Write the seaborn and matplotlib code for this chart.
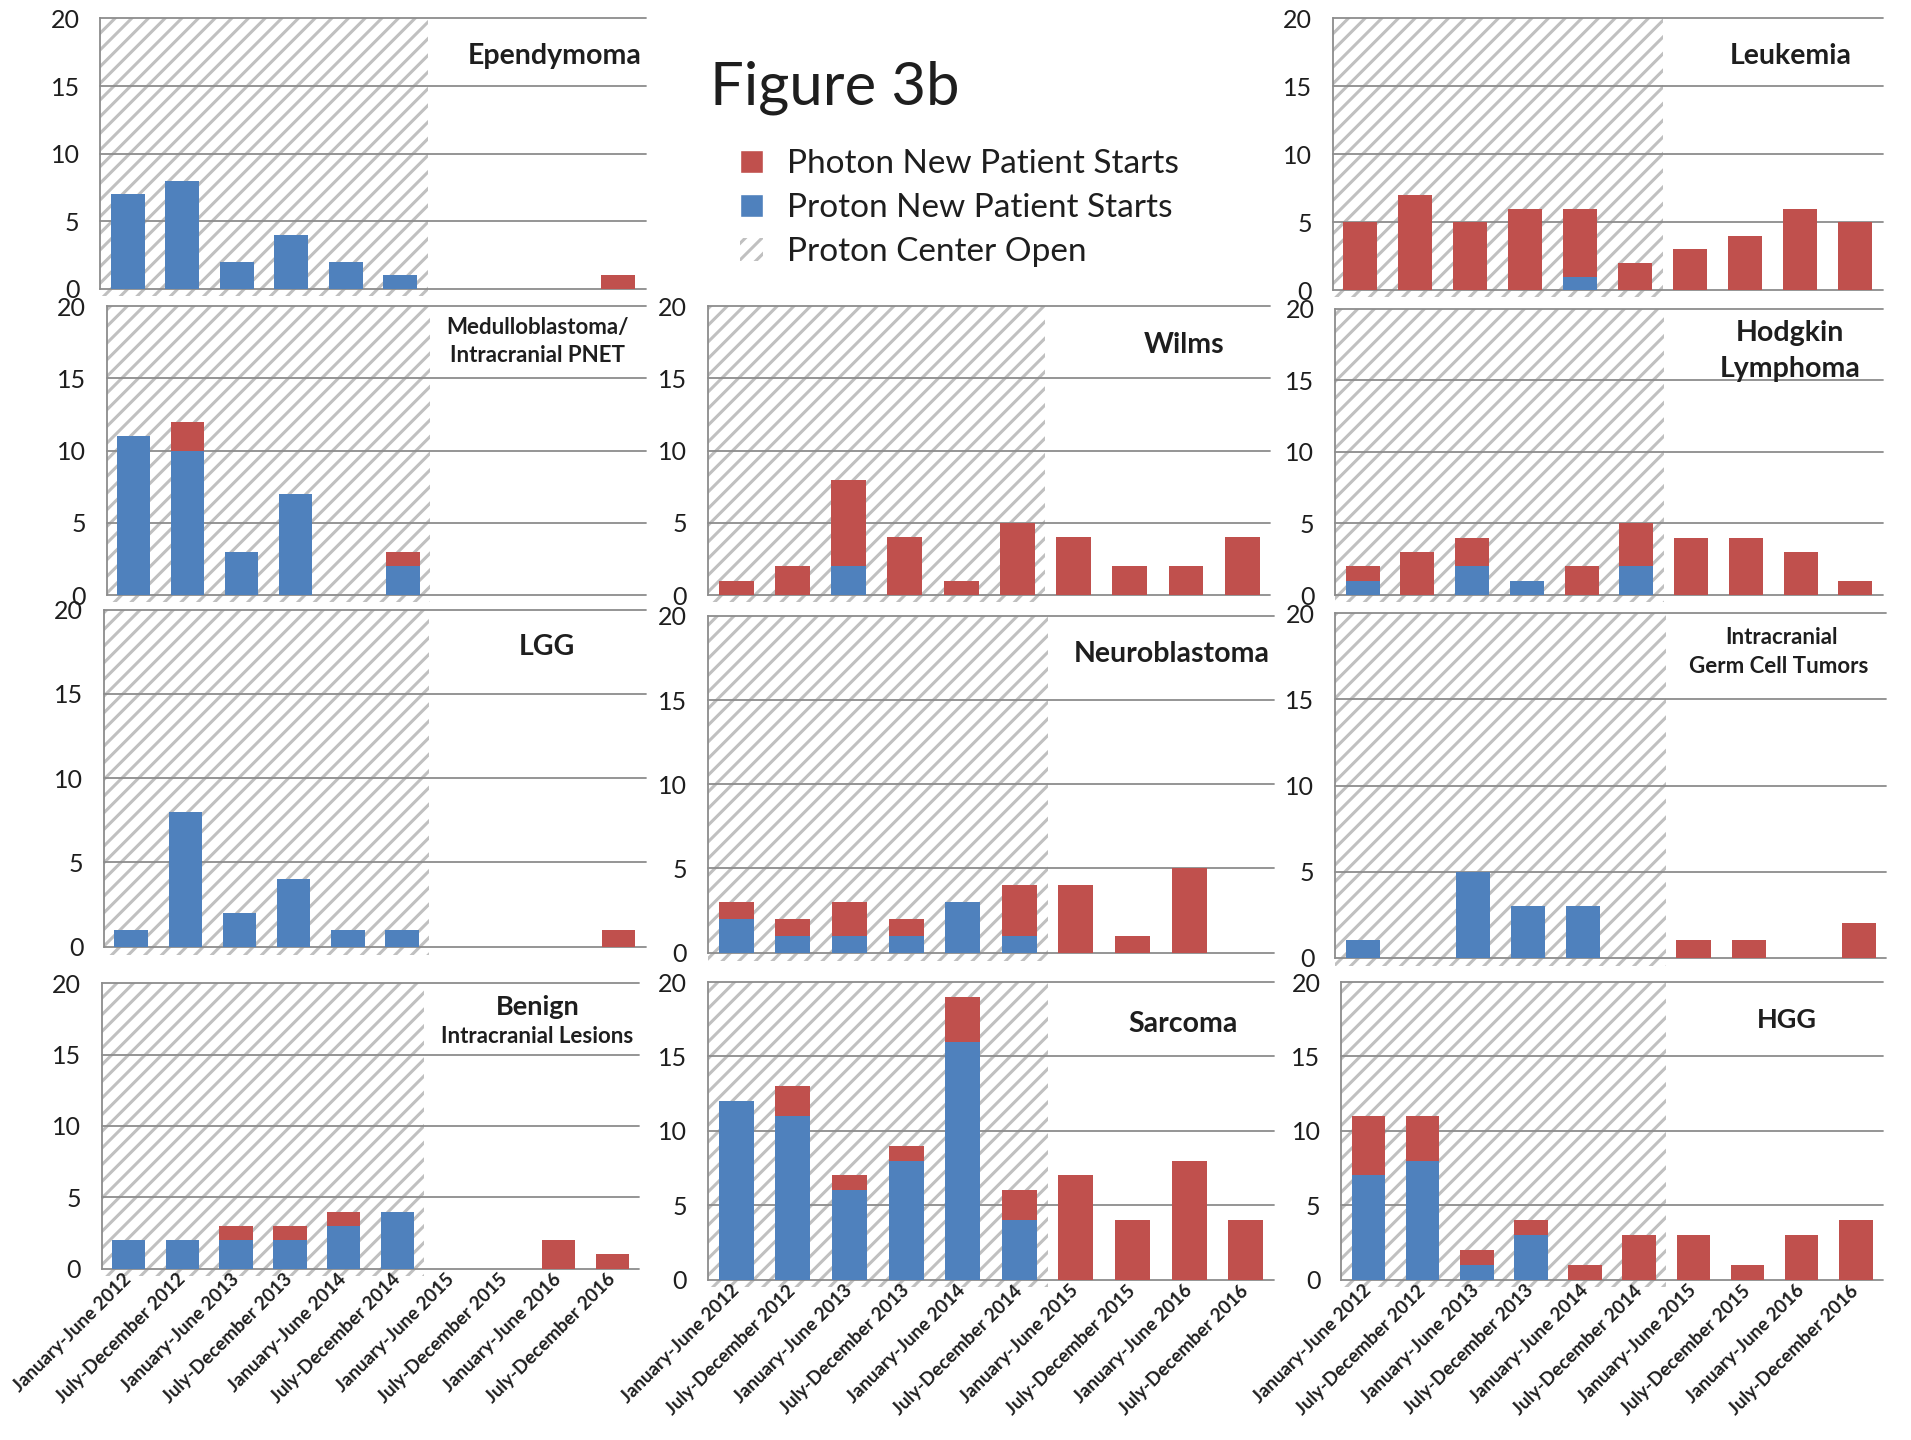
import matplotlib
matplotlib.use("Agg")
import matplotlib.pyplot as plt
from matplotlib.patches import Patch, Rectangle
import seaborn as sns

# ────────────────────────────────────────────────────────────────────────
# Half-year periods and new patient starts per diagnosis
# ────────────────────────────────────────────────────────────────────────
periods = [
    "January-June 2012", "July-December 2012",
    "January-June 2013", "July-December 2013",
    "January-June 2014", "July-December 2014",
    "January-June 2015", "July-December 2015",
    "January-June 2016", "July-December 2016",
]

ependymoma_proton = [7, 8, 2, 4, 2, 1, 0, 0, 0, 0]
ependymoma_photon = [0, 0, 0, 0, 0, 0, 0, 0, 0, 1]

leukemia_proton = [0, 0, 0, 0, 1, 0, 0, 0, 0, 0]
leukemia_photon = [5, 7, 5, 6, 5, 2, 3, 4, 6, 5]

medullo_proton = [11, 10, 3, 7, 0, 2, 0, 0, 0, 0]
medullo_photon = [0, 2, 0, 0, 0, 1, 0, 0, 0, 0]

wilms_proton = [0, 0, 2, 0, 0, 0, 0, 0, 0, 0]
wilms_photon = [1, 2, 6, 4, 1, 5, 4, 2, 2, 4]

hodgkin_proton = [1, 0, 2, 1, 0, 2, 0, 0, 0, 0]
hodgkin_photon = [1, 3, 2, 0, 2, 3, 4, 4, 3, 1]

lgg_proton = [1, 8, 2, 4, 1, 1, 0, 0, 0, 0]
lgg_photon = [0, 0, 0, 0, 0, 0, 0, 0, 0, 1]

neuroblastoma_proton = [2, 1, 1, 1, 3, 1, 0, 0, 0, 0]
neuroblastoma_photon = [1, 1, 2, 1, 0, 3, 4, 1, 5, 0]

germ_cell_proton = [1, 0, 5, 3, 3, 0, 0, 0, 0, 0]
germ_cell_photon = [0, 0, 0, 0, 0, 0, 1, 1, 0, 2]

benign_proton = [2, 2, 2, 2, 3, 4, 0, 0, 0, 0]
benign_photon = [0, 0, 1, 1, 1, 0, 0, 0, 2, 1]

sarcoma_proton = [12, 11, 6, 8, 16, 4, 0, 0, 0, 0]
sarcoma_photon = [0, 2, 1, 1, 3, 2, 7, 4, 8, 4]

hgg_proton = [7, 8, 1, 3, 0, 0, 0, 0, 0, 0]
hgg_photon = [4, 3, 1, 1, 1, 3, 3, 1, 3, 4]

yticks = [0, 5, 10, 15, 20]
open_periods = 6  # proton center open over the first six periods

RED = "#c0504d"
BLUE = "#4f81bd"
HATCH_GREY = "#c0c0c0"
GRID_GREY = "#8c8c8c"
TEXT = "#1e1e1e"

BIG = 20.5
SMALL = 16

sns.set_style("white")
plt.rcParams["font.family"] = ["Lato", "DejaVu Sans"]
plt.rcParams["hatch.linewidth"] = 2.2

# layout boxes (left, top, right, bottom) on a 1560 x 1176 grid
W, H = 1560.0, 1176.0


def frac_rect(box):
    l, t, r, b = box
    return [l / W, 1 - b / H, (r - l) / W, (b - t) / H]


# (proton, photon, box, title lines, show x labels)
panels = [
    (ependymoma_proton, ependymoma_photon, (82, 15, 527, 236),
     [("Ependymoma", 0.833, 0.86, BIG)], False),
    (leukemia_proton, leukemia_photon, (1088, 15, 1537, 237),
     [("Leukemia", 0.832, 0.86, BIG)], False),
    (medullo_proton, medullo_photon, (87, 250, 527, 486),
     [("Medulloblastoma/", 0.80, 0.925, SMALL), ("Intracranial PNET", 0.80, 0.83, SMALL)], False),
    (wilms_proton, wilms_photon, (578, 250, 1037, 486),
     [("Wilms", 0.846, 0.865, BIG)], False),
    (hodgkin_proton, hodgkin_photon, (1090, 252, 1537, 486),
     [("Hodgkin", 0.83, 0.915, BIG), ("Lymphoma", 0.83, 0.79, BIG)], False),
    (lgg_proton, lgg_photon, (85, 498, 527, 773),
     [("LGG", 0.818, 0.89, BIG)], False),
    (neuroblastoma_proton, neuroblastoma_photon, (578, 503, 1040, 778),
     [("Neuroblastoma", 0.82, 0.887, BIG)], False),
    (germ_cell_proton, germ_cell_photon, (1090, 501, 1540, 782),
     [("Intracranial", 0.81, 0.93, SMALL), ("Germ Cell Tumors", 0.805, 0.847, SMALL)], False),
    (benign_proton, benign_photon, (83, 803, 522, 1036),
     [("Benign", 0.81, 0.918, BIG - 1), ("Intracranial Lesions", 0.81, 0.815, SMALL)], True),
    (sarcoma_proton, sarcoma_photon, (578, 802, 1040, 1045),
     [("Sarcoma", 0.84, 0.86, BIG)], True),
    (hgg_proton, hgg_photon, (1095, 802, 1537, 1045),
     [("HGG", 0.822, 0.872, BIG - 1)], True),
]

fig = plt.figure(figsize=(19.11, 14.40), dpi=100)

for proton, photon, box, titles, show_x in panels:
    ax = fig.add_axes(frac_rect(box))
    totals = [p + q for p, q in zip(proton, photon)]

    # hatched "proton center open" span
    ax.add_patch(Rectangle((-0.5, -0.5), open_periods, 20.5, facecolor="white",
                           edgecolor=HATCH_GREY, hatch="//", linewidth=0,
                           zorder=0.2, clip_on=False))

    sns.barplot(x=periods, y=totals, color=RED, saturation=1, width=0.62,
                linewidth=0, errorbar=None, ax=ax, zorder=2)
    sns.barplot(x=periods, y=proton, color=BLUE, saturation=1, width=0.62,
                linewidth=0, errorbar=None, ax=ax, zorder=3)

    ax.set_xlim(-0.5, len(periods) - 0.5)
    ax.set_ylim(0, 20)
    ax.set_yticks(yticks)
    ax.yaxis.grid(True, color=GRID_GREY, linewidth=1.3)
    ax.set_axisbelow(True)
    for gl in ax.get_ygridlines():
        gl.set_clip_on(False)
    for side in ["top", "right", "bottom"]:
        ax.spines[side].set_visible(False)
    ax.spines["left"].set_color(GRID_GREY)
    ax.spines["left"].set_linewidth(1.3)
    ax.tick_params(axis="y", length=0, pad=15, labelsize=18, labelcolor=TEXT)
    ax.tick_params(axis="x", length=0, pad=6)
    ax.set_xlabel("")
    ax.set_ylabel("")
    ax.set_facecolor("none")

    if show_x:
        ax.set_xticks(range(len(periods)))
        ax.set_xticklabels(periods, rotation=45, ha="right", va="center",
                           rotation_mode="anchor", fontsize=13.5,
                           fontweight="bold", color=TEXT)
    else:
        ax.set_xticklabels([])

    for text, tx, ty, size in titles:
        ax.text(tx, ty, text, transform=ax.transAxes, ha="center", va="center",
                fontsize=size, fontweight="bold", color=TEXT, zorder=5)

# title and legend in the empty top-middle slot
fig.text(580 / W, 1 - 72 / H, "Figure 3b", ha="left", va="center",
         fontsize=43, fontweight="normal", color=TEXT)

handles = [
    Patch(facecolor=RED, label="Photon New Patient Starts"),
    Patch(facecolor=BLUE, label="Proton New Patient Starts"),
    Patch(facecolor="white", edgecolor=HATCH_GREY, hatch="//", linewidth=0,
          label="Proton Center Open"),
]
fig.legend(handles=handles, loc="upper left", bbox_to_anchor=(604 / W, 1 - 122 / H),
           frameon=False, fontsize=24, handlelength=0.7, handleheight=0.7,
           handletextpad=0.7, labelspacing=0.42, borderpad=0, borderaxespad=0,
           labelcolor=TEXT)

fig.savefig("out.png", dpi=100)
